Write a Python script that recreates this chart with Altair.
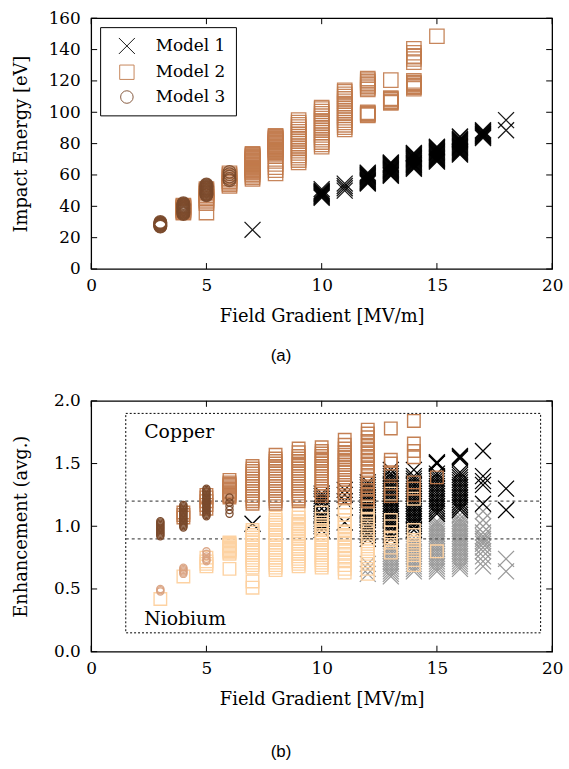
import altair as alt
import pandas as pd

# ---------------- data ----------------
MODELS = ["Model 1", "Model 2", "Model 3"]
XTICKS = [0, 5, 10, 15, 20]
A_YTICKS = [0, 20, 40, 60, 80, 100, 120, 140, 160]
B_YTICKS = [0.0, 0.5, 1.0, 1.5, 2.0]

# Panel (a): Impact Energy [eV]
A_M1 = {
    7: [25],
    10: [45.5, 46, 46.5, 47, 47.5, 48, 48.5, 49, 49.5, 50, 51],
    11: [50, 51.5, 53, 54.5],
    12: [54.5, 55, 55.5, 56, 56.5, 57, 57.5, 58, 58.5, 59, 59.5, 60, 60.5, 61, 61.5],
    13: [59.5, 60, 60.5, 61, 61.5, 62, 62.5, 63, 63.5, 64, 64.5, 65, 65.5, 66, 66.5,
         67, 67.5, 68],
    14: [64, 64.5, 65, 65.5, 66, 66.5, 67, 67.5, 68, 68.5, 69, 69.5, 70, 70.5, 71, 71.5,
         72, 72.5, 73, 73.5, 74],
    15: [68.5, 69, 69.5, 70, 70.5, 71, 71.5, 72, 72.5, 73, 73.5, 74, 74.5, 75, 75.5, 76,
         76.5, 77, 77.5, 78],
    16: [73, 73.5, 74, 74.5, 75, 75.5, 76, 76.5, 77, 77.5, 78, 78.5, 79, 79.5, 80, 80.5,
         81, 81.5, 82, 82.5, 83, 84, 84.5],
    17: [83.5, 84, 84.5, 85, 85.5, 86, 86.5, 87, 87.5, 88, 88.5],
    18: [88.5, 95],
}
A_M2 = {
    4: [36, 36.5, 37, 37.5, 38, 38.5, 39, 39.5, 40, 40.5],
    5: [36, 42, 43, 44, 45, 46, 47, 48, 49, 50, 51],
    6: [53, 54, 55, 56, 57, 58, 59, 60, 61],
    7: [57.5, 58.5, 59.5, 60.5, 61.5, 62, 62.5, 63, 63.5, 64, 64.5, 65, 65.5, 66, 66.5,
        67, 67.5, 68, 68.5, 69, 69.5, 70, 70.5, 71, 71.5, 72, 72.5, 73, 73.5],
    8: [61, 63, 65, 67, 69, 72, 73.5, 74.5, 75, 75.5, 76, 76.5, 77, 77.5, 78, 78.5, 79,
        79.5, 80, 80.5, 81, 81.5, 82, 82.5, 83, 83.5, 84, 84.5, 85],
    9: [68, 69.5, 71, 72.5, 74, 75.5, 77, 78.5, 80, 81.5, 83, 84.5, 86, 87.5, 89, 90.5,
        92, 93.5, 95],
    10: [78, 79.5, 81, 82.5, 84, 85.5, 87, 88.5, 90, 91.5, 93, 94.5, 96, 97.5, 99, 100.5,
         102, 103],
    11: [89, 90.5, 92, 93.5, 95, 96.5, 98, 99.5, 101, 102.5, 104, 105.5, 107, 108.5,
         110, 111.5, 113, 114],
    12: [98, 98.5, 99, 99.5, 100, 114.5, 115.5, 116.5, 117.5, 118.5, 119.5, 120.5, 121.5],
    13: [106, 106.5, 107, 108, 108.5, 109, 120.5],
    14: [115, 116, 116.5, 117, 118, 118.5, 119, 120, 132, 134, 135.5, 136, 138, 140.5],
    15: [148.5],
}
A_M3 = {
    3: [27, 27.3, 27.6, 28, 28.3, 28.6, 29, 29.3, 29.6, 30],
    4: [35, 35.5, 36, 36.5, 37, 37.5, 38, 38.5, 39, 39.5, 40, 40.5, 41, 41.5, 42],
    5: [47, 47.5, 48, 48.5, 49, 49.5, 50, 50.5, 51, 51.5, 52, 52.5, 53, 53.5, 54],
    6: [56.5, 57.5, 59, 60.5, 62],
}

# Panel (b): Enhancement (avg.) -- Copper (CU) and Niobium (NB)
B_CU_M1 = {
    7: [1.02],
    10: [0.97, 1.0, 1.02, 1.04, 1.06, 1.08, 1.10, 1.14, 1.18, 1.20, 1.22, 1.24, 1.26],
    11: [1.03, 1.20, 1.25, 1.29],
    12: [0.90, 0.93, 0.95, 0.98, 1.00, 1.02, 1.05, 1.07, 1.09, 1.11, 1.13, 1.15, 1.17,
         1.19, 1.21, 1.23, 1.25, 1.27, 1.29, 1.31, 1.33, 1.35],
    13: [0.90, 0.93, 0.95, 0.98, 1.00, 1.02, 1.04, 1.06, 1.08, 1.10, 1.12, 1.14, 1.16,
         1.18, 1.20, 1.22, 1.24, 1.26, 1.28, 1.30, 1.32, 1.34, 1.36, 1.38, 1.40, 1.42, 1.45],
    14: [0.97, 1.00, 1.02, 1.04, 1.06, 1.08, 1.10, 1.12, 1.14, 1.16, 1.18, 1.20, 1.22,
         1.24, 1.26, 1.28, 1.30, 1.32, 1.34, 1.36, 1.38, 1.40, 1.45],
    15: [1.10, 1.12, 1.14, 1.16, 1.18, 1.20, 1.22, 1.24, 1.26, 1.28, 1.30, 1.32, 1.34,
         1.36, 1.38, 1.40, 1.42, 1.50, 1.50, 1.51],
    16: [1.13, 1.15, 1.17, 1.19, 1.21, 1.23, 1.25, 1.27, 1.29, 1.31, 1.33, 1.35, 1.37,
         1.39, 1.41, 1.43, 1.54, 1.55, 1.56],
    17: [1.18, 1.33, 1.36, 1.40, 1.60],
    18: [1.13, 1.30],
}
B_NB_M1 = {
    12: [0.62, 0.66, 0.70],
    13: [0.60, 0.62, 0.64, 0.66, 0.68, 0.70, 0.72, 0.74, 0.76, 0.78, 0.80, 0.82, 0.84],
    14: [0.64, 0.66, 0.68, 0.70, 0.72, 0.74, 0.76, 0.78, 0.80, 0.82, 0.84, 0.86, 0.88,
         0.91],
    15: [0.64, 0.66, 0.68, 0.70, 0.72, 0.74, 0.76, 0.78, 0.80, 0.82, 0.84, 0.86, 0.88,
         0.90, 0.92, 0.94, 0.96, 0.98, 1.00, 1.02, 1.04],
    16: [0.66, 0.68, 0.70, 0.72, 0.74, 0.76, 0.78, 0.80, 0.82, 0.84, 0.86, 0.88, 0.90,
         0.92, 0.94, 0.96, 0.98, 1.00, 1.02, 1.04, 1.06, 1.09],
    17: [0.68, 0.72, 0.76, 0.80, 0.83, 0.86, 0.88, 0.90, 0.92, 0.95, 1.00, 1.05, 1.12],
    18: [0.64, 0.74],
}
B_CU_M2 = {
    4: [1.07, 1.09, 1.11],
    5: [1.14, 1.17, 1.20, 1.23, 1.25],
    6: [1.23, 1.24, 1.25, 1.26, 1.27, 1.28, 1.29, 1.30, 1.31, 1.32, 1.33, 1.34, 1.35, 1.37],
    7: [1.18, 1.20, 1.22, 1.24, 1.26, 1.28, 1.30, 1.32, 1.34, 1.36, 1.38, 1.40, 1.42,
        1.44, 1.46, 1.48],
    8: [1.18, 1.20, 1.22, 1.24, 1.26, 1.28, 1.30, 1.32, 1.34, 1.36, 1.38, 1.40, 1.42,
        1.44, 1.46, 1.48, 1.50, 1.52, 1.54, 1.57],
    9: [1.20, 1.22, 1.24, 1.26, 1.28, 1.30, 1.32, 1.34, 1.36, 1.38, 1.40, 1.42, 1.44,
        1.46, 1.48, 1.50, 1.52, 1.54, 1.56, 1.59, 1.62],
    10: [1.24, 1.26, 1.28, 1.30, 1.32, 1.34, 1.36, 1.38, 1.40, 1.42, 1.44, 1.46, 1.48,
         1.50, 1.52, 1.54, 1.56, 1.58, 1.60, 1.63],
    11: [1.23, 1.25, 1.27, 1.29, 1.31, 1.33, 1.35, 1.37, 1.39, 1.41, 1.43, 1.45, 1.47,
         1.49, 1.51, 1.53, 1.55, 1.57, 1.59, 1.62, 1.65, 1.69],
    12: [1.20, 1.23, 1.26, 1.29, 1.32, 1.35, 1.38, 1.41, 1.44, 1.47, 1.50, 1.53, 1.56,
         1.59, 1.62, 1.65, 1.68, 1.71, 1.74, 1.77],
    13: [1.24, 1.30, 1.42, 1.50, 1.53, 1.78],
    14: [1.25, 1.30, 1.35, 1.55, 1.60, 1.66, 1.84],
    15: [1.39],
}
B_NB_M2 = {
    3: [0.42],
    4: [0.60],
    5: [0.68, 0.70, 0.72, 0.75],
    6: [0.66, 0.78, 0.79, 0.80, 0.81, 0.82, 0.83, 0.84, 0.85, 0.86, 0.87],
    7: [0.51, 0.56, 0.67, 0.69, 0.71, 0.73, 0.75, 0.77, 0.79, 0.81, 0.83, 0.85, 0.87,
        0.89, 0.91, 0.93, 0.95, 0.97],
    8: [0.65, 0.67, 0.69, 0.71, 0.73, 0.75, 0.77, 0.79, 0.81, 0.83, 0.85, 0.87, 0.89,
        0.91, 0.93, 0.95, 0.97, 0.99, 1.01, 1.03, 1.05, 1.07],
    9: [0.68, 0.70, 0.72, 0.74, 0.76, 0.78, 0.80, 0.82, 0.84, 0.86, 0.88, 0.90, 0.92,
        0.94, 0.96, 0.98, 1.00, 1.02, 1.04, 1.07, 1.11],
    10: [0.67, 0.69, 0.71, 0.73, 0.75, 0.77, 0.79, 0.81, 0.83, 0.85, 0.87, 0.89, 0.91,
         0.93, 0.95, 0.97, 0.99, 1.01, 1.03, 1.06, 1.11],
    11: [0.63, 0.66, 0.69, 0.72, 0.75, 0.78, 0.81, 0.84, 0.87, 0.90, 0.93, 0.96, 0.99,
         1.02, 1.05, 1.09, 1.12, 1.15],
    12: [0.62, 0.66, 0.70, 0.74, 0.78, 0.82, 0.86, 0.90, 0.94, 0.98, 1.02, 1.06, 1.10,
         1.15, 1.20, 1.25],
    13: [0.79, 0.83, 0.87, 0.91, 0.95, 1.00, 1.05, 1.26],
    14: [0.69, 0.73, 0.77, 0.81, 0.85, 0.89, 0.93, 0.97, 1.22, 1.30],
    15: [0.80],
}
B_CU_M3 = {
    3: [0.92, 0.93, 0.94, 0.95, 0.96, 0.97, 0.98, 0.99, 1.00, 1.01, 1.02, 1.03, 1.04],
    4: [0.99, 1.00, 1.01, 1.02, 1.03, 1.04, 1.05, 1.06, 1.07, 1.08, 1.09, 1.10, 1.11,
        1.12, 1.13, 1.14, 1.15, 1.16, 1.17],
    5: [1.08, 1.09, 1.10, 1.11, 1.12, 1.13, 1.14, 1.15, 1.16, 1.17, 1.18, 1.19, 1.20,
        1.21, 1.22, 1.23, 1.24, 1.25, 1.26, 1.27, 1.28, 1.29, 1.30],
    6: [1.10, 1.13, 1.16, 1.19, 1.23],
}
B_NB_M3 = {
    3: [0.48, 0.49, 0.50],
    4: [0.62, 0.63, 0.64, 0.65, 0.66, 0.67],
    5: [0.72, 0.73, 0.74, 0.76, 0.78, 0.80],
}

REGION_LABELS = ["Copper", "Niobium"]
REGION_LX = [2.3, 2.3]
REGION_LY = [1.75, 0.26]
BOX = {"x": 1.5, "x2": 19.5, "y": 0.15, "y2": 1.9}
THRESHOLDS = [0.9, 1.2]

# ---------------- styling ----------------
W, H = 465, 253
SERIF = "DejaVu Serif"
LFS = 17   # tick labels
TFS = 18   # axis titles
XPATH = "M-1,-1L1,1M-1,1L1,-1"
C_M1, C_M2, C_M3 = "#000000", "#c17a4b", "#7a4a2c"
C_NB1, C_NB2, C_NB3 = "#999999", "#fdd2a2", "#d9a07e"
TICK = 6
XSIZE, SQSIZE, CSIZE = 260, 160, 52

xs = alt.Scale(domain=[0, 20], nice=False)
ya = alt.Scale(domain=[0, 160], nice=False)
yb = alt.Scale(domain=[0, 2], nice=False)
XAX = alt.Axis(values=XTICKS, title="Field Gradient [MV/m]", format="d", labelPadding=9)
YAX_A = alt.Axis(values=A_YTICKS, title="Impact Energy [eV]", titlePadding=18, format="d")
YAX_B = alt.Axis(values=B_YTICKS, title="Enhancement (avg.)", format=".1f", titlePadding=23)


def long(d, **tags):
    return pd.DataFrame([{"x": k, "y": v, **tags} for k, vs in d.items() for v in vs])


def frame_ticks(ys, yax, yticks):
    tx = pd.DataFrame({"t": XTICKS})
    ty = pd.DataFrame({"t": yticks})
    r = dict(color="black", strokeWidth=1)
    X = alt.X("t:Q", scale=xs, axis=XAX)
    Y = alt.Y("t:Q", scale=ys, axis=yax)
    return [
        alt.Chart(tx).mark_rule(**r).encode(x=X, y=alt.value(H), y2=alt.value(H - TICK)),
        alt.Chart(tx).mark_rule(**r).encode(x=X, y=alt.value(0), y2=alt.value(TICK)),
        alt.Chart(ty).mark_rule(**r).encode(y=Y, x=alt.value(0), x2=alt.value(TICK)),
        alt.Chart(ty).mark_rule(**r).encode(y=Y, x=alt.value(W), x2=alt.value(W - TICK)),
    ]


# ---------------- panel (a) ----------------
df_a = pd.concat([long(A_M2, model="Model 2"), long(A_M3, model="Model 3"),
                  long(A_M1, model="Model 1")], ignore_index=True)
pts_a = alt.Chart(df_a).mark_point(filled=False, strokeWidth=1.3, opacity=0.9).encode(
    x=alt.X("x:Q", scale=xs, axis=XAX),
    y=alt.Y("y:Q", scale=ya, axis=YAX_A),
    color=alt.Color("model:N", scale=alt.Scale(domain=MODELS, range=[C_M1, C_M2, C_M3]), title=None),
    shape=alt.Shape("model:N", scale=alt.Scale(domain=MODELS, range=[XPATH, "square", "circle"]), title=None),
    size=alt.Size("model:N", scale=alt.Scale(domain=MODELS, range=[XSIZE, SQSIZE, CSIZE]), title=None),
)
panel_a = alt.layer(pts_a, *frame_ticks(ya, YAX_A, A_YTICKS)).properties(
    width=W, height=H,
    title=alt.TitleParams("(a)", orient="bottom", font="Liberation Sans", fontSize=17,
                          fontWeight="normal", anchor="middle", dx=-41, offset=23),
)


# ---------------- panel (b) ----------------
def pts(d, color, shape, size, opacity=0.9, sw=1.3):
    return alt.Chart(long(d)).mark_point(filled=False, strokeWidth=sw, opacity=opacity,
                                         color=color, shape=shape, size=size).encode(
        x=alt.X("x:Q", scale=xs, axis=XAX),
        y=alt.Y("y:Q", scale=yb, axis=YAX_B),
    )


box = alt.Chart(pd.DataFrame([BOX])).mark_rect(
    fillOpacity=0, stroke="black", strokeWidth=1, strokeDash=[2, 2]).encode(
    x=alt.X("x:Q", scale=xs, axis=XAX), x2="x2:Q",
    y=alt.Y("y:Q", scale=yb, axis=YAX_B), y2="y2:Q")
lines = alt.Chart(pd.DataFrame({"t": THRESHOLDS, "x": BOX["x"], "x2": BOX["x2"]})).mark_rule(
    color="#555555", strokeWidth=1.3, strokeDash=[3, 3]).encode(
    x=alt.X("x:Q", scale=xs, axis=XAX), x2="x2:Q", y=alt.Y("t:Q", scale=yb, axis=YAX_B))
labels = alt.Chart(pd.DataFrame({"t": REGION_LABELS, "x": REGION_LX, "y": REGION_LY})).mark_text(
    align="left", baseline="middle", font=SERIF, fontSize=19, color="black").encode(
    x=alt.X("x:Q", scale=xs, axis=XAX), y=alt.Y("y:Q", scale=yb, axis=YAX_B), text="t:N")

panel_b = alt.layer(
    pts(B_NB_M1, C_NB1, XPATH, XSIZE, 1.0, 1.3),
    box, lines,
    pts(B_CU_M1, C_M1, XPATH, XSIZE, 1.0, 1.3),
    pts(B_NB_M2, C_NB2, "square", SQSIZE, 1.0, 1.4),
    pts(B_CU_M2, C_M2, "square", SQSIZE, 0.95, 1.4),
    pts(B_NB_M3, C_NB3, "circle", CSIZE),
    pts(B_CU_M3, C_M3, "circle", CSIZE, 1.0),
    labels,
    *frame_ticks(yb, YAX_B, B_YTICKS),
).properties(
    width=W, height=H,
    title=alt.TitleParams("(b)", orient="bottom", font="Liberation Sans", fontSize=17,
                          fontWeight="normal", anchor="middle", dx=-41, offset=36),
)

chart = alt.vconcat(panel_a, panel_b, spacing=26).resolve_scale(
    color="independent", shape="independent", size="independent"
).properties(
    padding={"left": 11, "top": 5, "right": 5, "bottom": 5},
).configure_view(
    stroke="black", strokeWidth=1.3
).configure_axis(
    grid=False, domain=False, ticks=False, labelFont=SERIF, labelFontSize=LFS,
    labelColor="black", labelPadding=11, labelFlush=False, labelOverlap=False,
    titleFont=SERIF, titleFontSize=TFS, titleFontWeight="normal", titleColor="black",
).configure_axisX(titlePadding=14).configure_legend(
    orient="none", legendX=9, legendY=9, strokeColor="black", fillColor="white",
    padding=10, symbolOffset=8, labelOffset=20, labelFont=SERIF, labelFontSize=17,
    labelColor="black", rowPadding=6, symbolStrokeWidth=1, cornerRadius=0,
).configure_title(color="black")

chart.save("out.html", embed_options={"renderer": "svg", "actions": False})
